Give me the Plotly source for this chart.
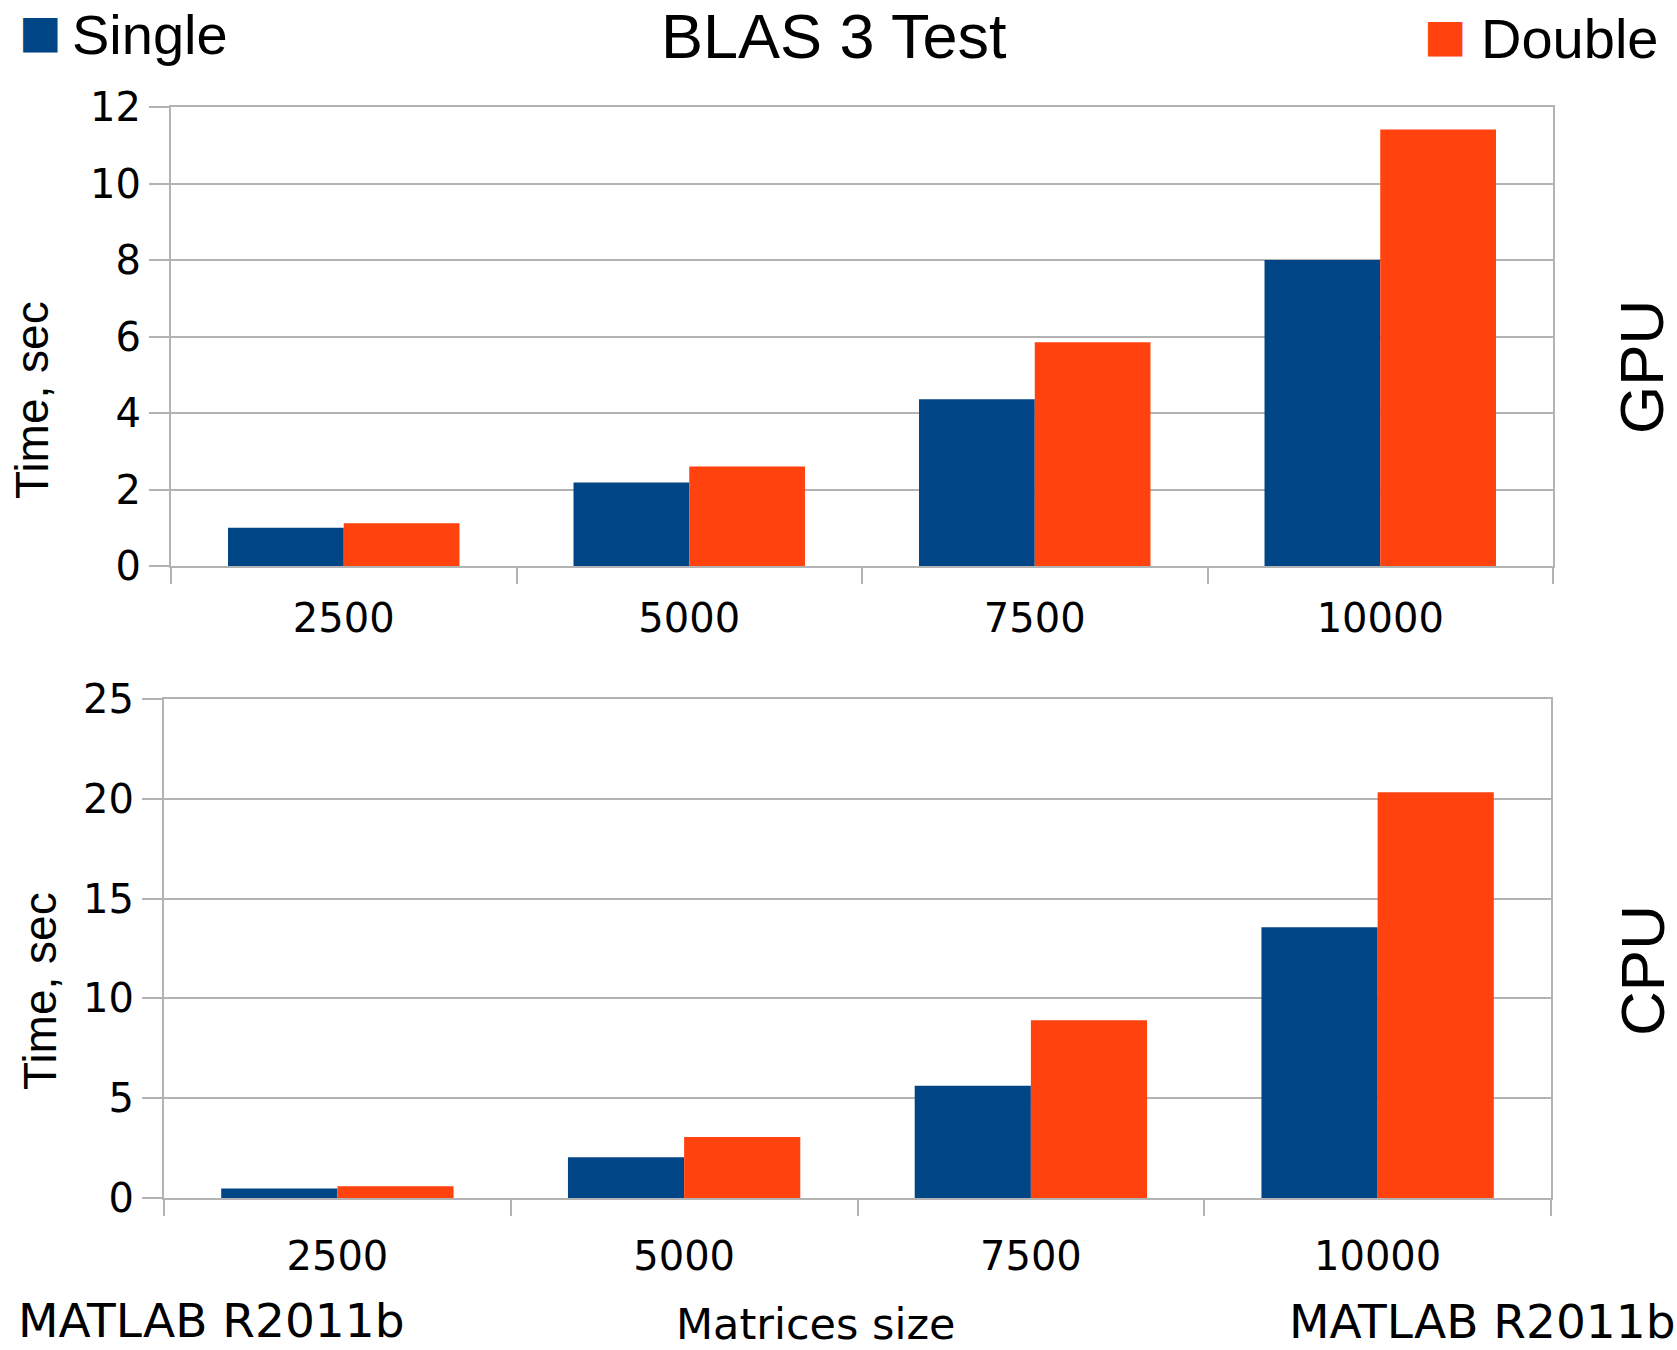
import plotly.graph_objects as go

sizes = ["2500", "5000", "7500", "10000"]
gpu_single = [1.0, 2.18, 4.36, 8.0]
gpu_double = [1.12, 2.6, 5.85, 11.41]
cpu_single = [0.48, 2.04, 5.63, 13.57]
cpu_double = [0.59, 3.06, 8.9, 20.33]

BLUE = "#004586"
ORANGE = "#ff420e"
GRID = "#b3b3b3"
W, H = 1677, 1350

fig = go.Figure()
fig.add_trace(go.Bar(x=sizes, y=gpu_single, name="Single", marker=dict(color=BLUE, line_width=0),
                     xaxis="x", yaxis="y", showlegend=False))
fig.add_trace(go.Bar(x=sizes, y=gpu_double, name="Double", marker=dict(color=ORANGE, line_width=0),
                     xaxis="x", yaxis="y", showlegend=False))
fig.add_trace(go.Bar(x=sizes, y=cpu_single, name="Single", marker=dict(color=BLUE, line_width=0),
                     xaxis="x2", yaxis="y2", showlegend=False))
fig.add_trace(go.Bar(x=sizes, y=cpu_double, name="Double", marker=dict(color=ORANGE, line_width=0),
                     xaxis="x2", yaxis="y2", showlegend=False))

tickfont = dict(family="DejaVu Sans", size=40, color="black")

def xax(domain, anchor, standoff):
    return dict(domain=domain, anchor=anchor, type="category", showline=True, mirror=True,
                linecolor=GRID, linewidth=2, ticks="outside", tickson="boundaries",
                ticklen=16, tickwidth=2, tickcolor=GRID, tickfont=tickfont,
                ticklabelstandoff=standoff, showgrid=False, fixedrange=True, automargin=False)

def yax(domain, anchor, rng, dtick):
    return dict(domain=domain, anchor=anchor, range=rng, dtick=dtick, showline=True, mirror=True,
                linecolor=GRID, linewidth=2, ticks="outside", ticklen=20, tickwidth=2,
                tickcolor=GRID, tickfont=tickfont, ticklabelstandoff=0, showgrid=True,
                gridcolor=GRID, gridwidth=2, zeroline=False, fixedrange=True, automargin=False)

fig.update_layout(
    template="none",
    width=W, height=H,
    autosize=False,
    margin=dict(l=0, r=0, t=0, b=0, pad=0),
    paper_bgcolor="white", plot_bgcolor="white",
    showlegend=False,
    barmode="group", bargap=0.33, bargroupgap=0,
    xaxis=xax([171 / W, 1553 / W], "y", 16),
    yaxis=yax([1 - 566 / H, 1 - 107 / H], "x", [0, 12], 2),
    xaxis2=xax([164 / W, 1551 / W], "y2", 22),
    yaxis2=yax([1 - 1198 / H, 1 - 699 / H], "x2", [0, 25], 5),
    font=dict(family="Liberation Sans", color="black"),
)

def ann(text, x, y, size, family="Liberation Sans", angle=0, xanchor="center",
        yanchor="middle", color="black", borderpad=1):
    fig.add_annotation(text=text, x=x / W, y=1 - y / H, xref="paper", yref="paper",
                       showarrow=False, textangle=angle, xanchor=xanchor, yanchor=yanchor,
                       borderpad=borderpad, font=dict(family=family, size=size, color=color))

ann("BLAS 3 Test", 834, 36, 63)
ann("■", 40, 32, 45, family="DejaVu Sans", color=BLUE)
ann("Single", 70, 35, 56, xanchor="left")
ann("■", 1445, 36, 45, family="DejaVu Sans", color=ORANGE)
ann("Double", 1479, 39, 56, xanchor="left")
ann("Time, sec", 32, 400, 46, angle=-90)
ann("Time, sec", 40, 991, 46, angle=-90)
ann("GPU", 1642, 367, 62, angle=-90)
ann("CPU", 1642, 971, 62, angle=-90)
ann("MATLAB R2011b", 17, 1349, 47, family="DejaVu Sans", xanchor="left", yanchor="bottom",
    borderpad=0)
ann("Matrices size", 815, 1350, 43, family="DejaVu Sans", yanchor="bottom", borderpad=0)
ann("MATLAB R2011b", 1676, 1350, 47, family="DejaVu Sans", xanchor="right", yanchor="bottom",
    borderpad=0)

fig.write_html("out.html")
